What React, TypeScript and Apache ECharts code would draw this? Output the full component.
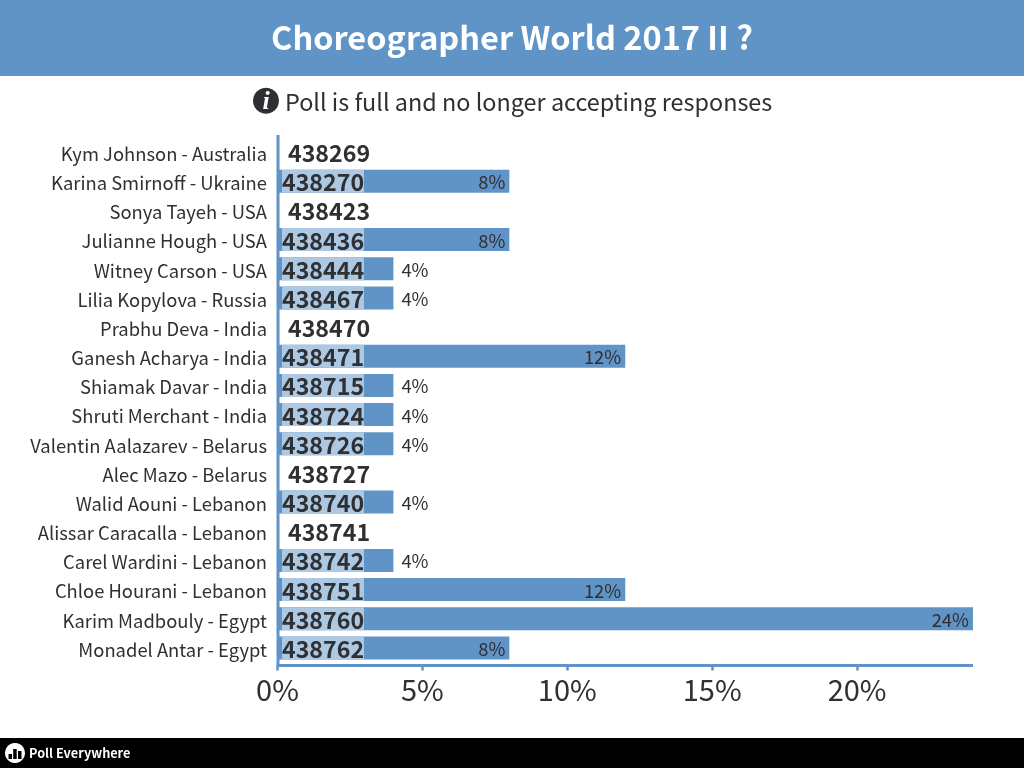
import React, { useEffect, useRef } from "react";
import * as echarts from "echarts";

const FONT = '"Noto Sans CJK SC", "Noto Sans", sans-serif';
const BLUE = "#6093c6";
const LIGHT = "#adc8e2";
const INK = "#2f3033";

const titleText = "Choreographer World 2017 II ?";
const noticeText = "Poll is full and no longer accepting responses";
const brandText = "Poll Everywhere";
const categories = [
  "Kym Johnson - Australia", "Karina Smirnoff - Ukraine", "Sonya Tayeh - USA", "Julianne Hough - USA",
  "Witney Carson - USA", "Lilia Kopylova - Russia", "Prabhu Deva - India", "Ganesh Acharya - India",
  "Shiamak Davar - India", "Shruti Merchant - India", "Valentin Aalazarev - Belarus", "Alec Mazo - Belarus",
  "Walid Aouni - Lebanon", "Alissar Caracalla - Lebanon", "Carel Wardini - Lebanon", "Chloe Hourani - Lebanon",
  "Karim Madbouly - Egypt", "Monadel Antar - Egypt",
];
const keywords = [
  "438269", "438270", "438423", "438436", "438444", "438467", "438470", "438471", "438715",
  "438724", "438726", "438727", "438740", "438741", "438742", "438751", "438760", "438762",
];
const percents = [0, 8, 0, 8, 4, 4, 0, 12, 4, 4, 4, 0, 4, 0, 4, 12, 24, 8];
const axisTicks = [0, 5, 10, 15, 20];

export default function App() {
  const ref = useRef<HTMLDivElement>(null);
  useEffect(() => {
    document.body.style.margin = "0";
    const chart = echarts.init(ref.current!, undefined, { renderer: "svg" });
    chart.setOption({
      animation: false,
      textStyle: { fontFamily: FONT },
      grid: { left: 277.5, top: 137.5, width: 695.5, height: 525, containLabel: false },
      xAxis: {
        type: "value", min: 0, max: 24, offset: 3,
        splitLine: { show: false },
        axisLine: { show: true, lineStyle: { color: BLUE, width: 3, cap: "butt" } },
        axisTick: { show: true, length: 5, customValues: axisTicks, lineStyle: { color: BLUE, width: 2.5 } },
        axisLabel: {
          customValues: axisTicks, formatter: "{value}%", color: INK, fontSize: 29, fontFamily: FONT, margin: 8,
        },
      },
      yAxis: {
        type: "category", inverse: true, data: categories,
        axisLine: { show: false }, axisTick: { show: false },
        axisLabel: {
          margin: 10.5, interval: 0,
          formatter: (name: string) => `{l|${name}}`,
          rich: { l: { color: INK, fontSize: 18.4, fontFamily: FONT, padding: [1.5, 0, 0, 0] } },
        },
      },
      series: [
        {
          type: "bar", barWidth: 23, barGap: "-100%", silent: true,
          itemStyle: { color: BLUE },
          data: percents.map((v) => ({
            value: v,
            label: v === 0
              ? { show: false }
              : v >= 8
                ? { show: true, position: "insideRight", distance: 4 }
                : { show: true, position: "right", distance: 8 },
          })),
          label: { formatter: "{c}%", color: INK, fontSize: 18.4, fontFamily: FONT },
        },
        {
          type: "bar", barWidth: 23, barGap: "-100%", silent: true,
          itemStyle: { color: "transparent" },
          data: percents.map((v, i) => ({
            value: v,
            label: {
              show: true, position: "insideLeft", distance: v === 0 ? 10.5 : 4.5,
              formatter: keywords[i], color: INK, fontSize: 23.2, fontWeight: "bold", fontFamily: FONT,
              lineHeight: 23, height: 23, width: 82,
              backgroundColor: v === 0 ? "transparent" : LIGHT,
            },
          })),
        },
      ],
      graphic: [
        { type: "rect", z: 0, shape: { x: 0, y: 0, width: 1024, height: 76 }, style: { fill: BLUE } },
        { type: "text", z: 1, x: 512, y: 35.5, style: { text: titleText, fill: "#ffffff", font: `bold 32.5px ${FONT}`, textAlign: "center", textVerticalAlign: "middle" } },
        { type: "circle", z: 1, shape: { cx: 266, cy: 100.8, r: 13 }, style: { fill: INK } },
        { type: "text", z: 2, x: 266, y: 100.8, style: { text: "i", fill: "#ffffff", font: 'italic bold 26px "Liberation Serif", serif', textAlign: "center", textVerticalAlign: "middle" } },
        { type: "text", z: 1, x: 285, y: 100.5, style: { text: noticeText, fill: INK, font: `23.4px ${FONT}`, textAlign: "left", textVerticalAlign: "middle" } },
        { type: "rect", z: 3, shape: { x: 276.5, y: 135, width: 3, height: 532 }, style: { fill: BLUE } },
        { type: "rect", z: 0, shape: { x: 0, y: 738, width: 1024, height: 30 }, style: { fill: "#000000" } },
        { type: "circle", z: 1, shape: { cx: 15, cy: 753, r: 10 }, style: { fill: "#ffffff" } },
        { type: "rect", z: 2, shape: { x: 8.5, y: 754, width: 3.5, height: 5 }, style: { fill: "#000000" } },
        { type: "rect", z: 2, shape: { x: 13.2, y: 749, width: 3.5, height: 10 }, style: { fill: "#000000" } },
        { type: "rect", z: 2, shape: { x: 18, y: 751, width: 3.5, height: 8 }, style: { fill: "#000000" } },
        { type: "text", z: 1, x: 29, y: 752.5, style: { text: brandText, fill: "#ffffff", font: `bold 12.7px ${FONT}`, textAlign: "left", textVerticalAlign: "middle" } },
      ],
    });
    return () => chart.dispose();
  }, []);
  return <div ref={ref} style={{ position: "fixed", left: 0, top: 0, width: 1024, height: 768 }} />;
}
